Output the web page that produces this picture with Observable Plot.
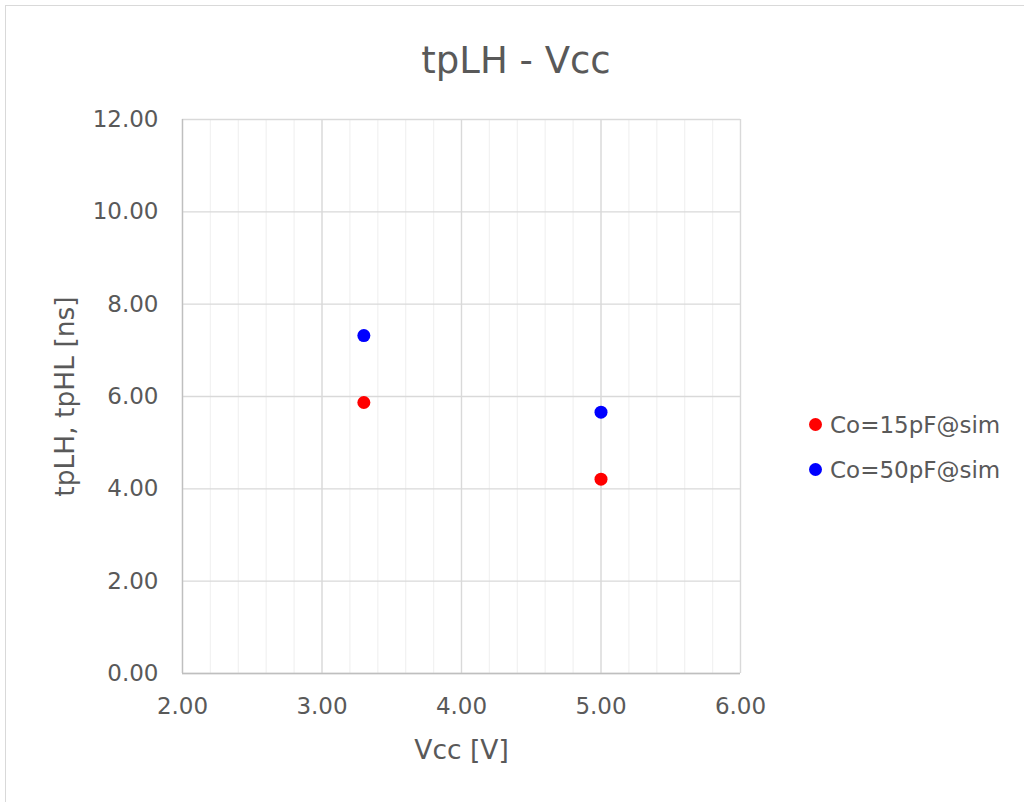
<!DOCTYPE html>
<html>
<head>
<meta charset="utf-8">
<script src="https://cdn.jsdelivr.net/npm/d3@7"></script>
<script src="https://cdn.jsdelivr.net/npm/@observablehq/plot@0.6"></script>
<style>
  html, body { margin: 0; padding: 0; background: #fff; overflow: hidden; }
  #wrap { position: relative; width: 1024px; height: 802px; font-family: "DejaVu Sans", Verdana, sans-serif; color: #595959; }
  #border { position: absolute; left: 5px; top: 5px; width: 1100px; height: 900px; border: 1px solid #d9d9d9; box-sizing: border-box; }
  #title { position: absolute; left: 4px; width: 1024px; top: 39px; text-align: center; font-size: 37px; line-height: 44px; }
  #legend { position: absolute; left: 809px; top: 402px; font-size: 23px; }
  .li { display: flex; align-items: center; height: 45px; }
  .sw { width: 13px; height: 13px; border-radius: 50%; margin-right: 8px; }
  #chart { position: absolute; left: 0; top: 0; }
</style>
</head>
<body>
<div id="wrap">
  <div id="border"></div>
  <div id="chart"></div>
  <div id="title">tpLH - Vcc</div>
  <div id="legend"></div>
</div>
<script>
const seriesNames = ["Co=15pF@sim", "Co=50pF@sim"];
const seriesColors = ["#ff0000", "#0000ff"];
const vcc = [3.3, 5.0];
const co15 = [5.87, 4.21];
const co50 = [7.32, 5.66];
const xTicks = [2, 3, 4, 5, 6];
const yTicks = [0, 2, 4, 6, 8, 10, 12];
const xMinor = d3.range(2, 6.001, 0.2).map(v => +v.toFixed(2));

const data = [
  ...vcc.map((v, i) => ({x: v, y: co15[i], s: seriesNames[0]})),
  ...vcc.map((v, i) => ({x: v, y: co50[i], s: seriesNames[1]}))
];

const plot = Plot.plot({
  width: 1024,
  height: 802,
  marginLeft: 182,
  marginRight: 284,
  marginTop: 119,
  marginBottom: 129,
  style: { fontFamily: '"DejaVu Sans", Verdana, sans-serif', fontSize: "23px", color: "#595959", background: "transparent" },
  x: { domain: [2, 6], label: null },
  y: { domain: [0, 12], label: null },
  color: { domain: seriesNames, range: seriesColors },
  marks: [
    Plot.ruleX(xMinor, { stroke: "#f2f2f2", strokeWidth: 1.3 }),
    Plot.ruleX(xTicks, { stroke: "#d9d9d9", strokeWidth: 1.3 }),
    Plot.ruleY(yTicks, { stroke: "#d9d9d9", strokeWidth: 1.3 }),
    Plot.ruleX([2], { stroke: "#bfbfbf", strokeWidth: 1.3 }),
    Plot.ruleY([0], { stroke: "#bfbfbf", strokeWidth: 1.3 }),
    Plot.axisX({ ticks: xTicks, tickFormat: d => d.toFixed(2), tickSize: 0, tickPadding: 24, fill: "#595959", fontSize: 23, label: null }),
    Plot.axisY({ ticks: yTicks, tickFormat: d => d.toFixed(2), tickSize: 0, tickPadding: 24, fill: "#595959", fontSize: 23, label: null }),
    Plot.text(["Vcc [V]"], { frameAnchor: "bottom", dy: 85, fontSize: 26.5, fill: "#595959" }),
    Plot.text(["tpLH, tpHL [ns]"], { frameAnchor: "left", dx: -117, rotate: -90, textAnchor: "middle", fontSize: 26.5, fill: "#595959" }),
    Plot.dot(data, { x: "x", y: "y", fill: "s", r: 6.5, stroke: null })
  ]
});
document.getElementById("chart").appendChild(plot);

const leg = document.getElementById("legend");
seriesNames.forEach((n, i) => {
  const d = document.createElement("div");
  d.className = "li";
  d.innerHTML = `<span class="sw" style="background:${seriesColors[i]}"></span><span>${n}</span>`;
  leg.appendChild(d);
});
</script>
</body>
</html>
